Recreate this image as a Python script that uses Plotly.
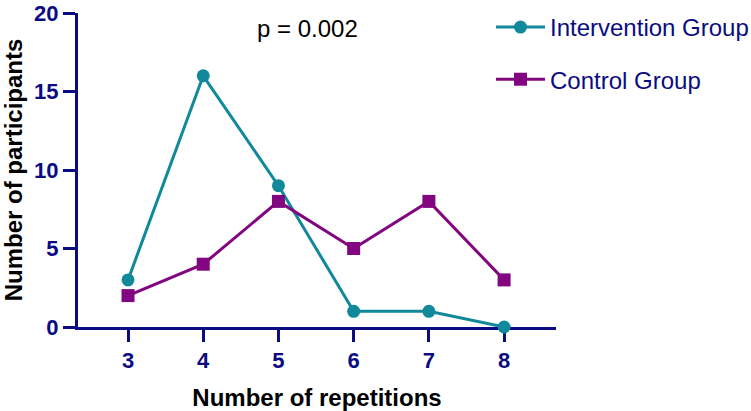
import plotly.graph_objects as go

repetitions = [3, 4, 5, 6, 7, 8]
intervention = [3, 16, 9, 1, 1, 0]
control = [2, 4, 8, 5, 8, 3]
y_ticks = [0, 5, 10, 15, 20]

NAVY = "#0b0b82"
TEAL = "#11899a"
PURPLE = "#81067f"
FONT = "Liberation Sans, Arial, sans-serif"

fig = go.Figure()
fig.add_trace(go.Scatter(
    x=repetitions, y=intervention, name="Intervention Group",
    mode="lines+markers", legendgroup="a",
    line=dict(color=TEAL, width=3),
    marker=dict(symbol="circle", size=13, color=TEAL),
    cliponaxis=False,
))
fig.add_trace(go.Scatter(
    x=repetitions, y=control, name="Control Group",
    mode="lines+markers", legendgroup="b",
    line=dict(color=PURPLE, width=3),
    marker=dict(symbol="square", size=13, color=PURPLE),
    cliponaxis=False,
))

fig.add_annotation(x=5.38, y=19.0, xref="x", yref="y", text="p = 0.002",
                   showarrow=False, font=dict(family=FONT, size=24, color="black"),
                   xanchor="center", yanchor="middle")

axis_common = dict(
    showline=True, linecolor=NAVY, linewidth=3,
    ticks="outside", ticklen=12, tickwidth=3, tickcolor=NAVY,
    showgrid=False, zeroline=False,
    tickfont=dict(family=FONT, size=22, color=NAVY, weight="bold"),
    ticklabeloverflow="allow",
    layer="below traces",
)

fig.update_layout(
    width=751, height=411,
    margin=dict(l=78, r=195, t=13, b=84, autoexpand=False),
    paper_bgcolor="white", plot_bgcolor="white",
    xaxis=dict(range=[2.335, 8.69], tickvals=repetitions,
               title=dict(text="Number of repetitions", standoff=19,
                          font=dict(family=FONT, size=24, color="black", weight="bold")),
               **axis_common),
    yaxis=dict(range=[0, 20], tickvals=y_ticks,
               title=dict(text="Number of participants", standoff=5,
                          font=dict(family=FONT, size=24, color="black", weight="bold")),
               **axis_common),
    legend=dict(x=0.6538, y=0.988, xref="container", yref="container",
                xanchor="left", yanchor="top",
                font=dict(family=FONT, size=24, color=NAVY),
                tracegroupgap=18, itemwidth=49, bgcolor="rgba(0,0,0,0)"),
    showlegend=True,
)

fig.write_html("out.html")
